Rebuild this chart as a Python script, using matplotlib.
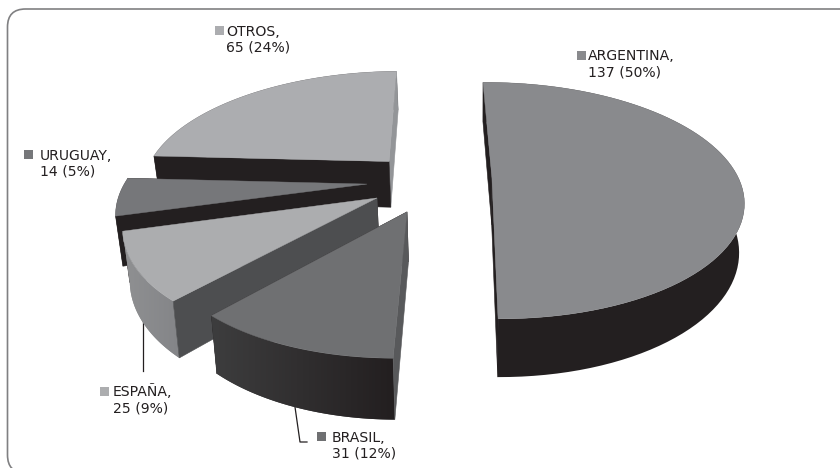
import numpy as np
import matplotlib
matplotlib.use('Agg')
import matplotlib.pyplot as plt
from matplotlib.patches import Polygon, Rectangle, FancyBboxPatch
from matplotlib.colors import LinearSegmentedColormap

names = ['ARGENTINA', 'BRASIL', 'ESPAÑA', 'URUGUAY', 'OTROS']
values = [137, 31, 25, 14, 65]
percents = [50, 12, 9, 5, 24]

# look of every slice, same order as names
tops = ['#898a8d', '#6f7072', '#acadaf', '#76777a', '#acadb0']
arc_left = ['#231f20', '#3d3d3e', '#8f9092', '#231f20', '#231f20']
arc_right = ['#231f20', '#231f20', '#848588', '#231f20', '#231f20']
start_walls = ['#231f20', '#58595b', '#4d4e50', '#231f20', '#231f20']
end_walls = ['#231f20', '#231f20', '#231f20', '#231f20', '#939598']
end_over_arc = [False, False, False, False, True]
# how far each slice is pulled out, in pie radii, and its radius
shift_x = [0.135, -0.2015, -0.325, -0.373, -0.295]
shift_y = [-0.106, 0.18, 0.067, -0.051, -0.255]
radius = [1.01, 0.94, 0.975, 0.985, 1.005]

# perspective of the plane of the pie
VP_X = 459
VP_Y = -412
VP_DIST = 602
SCALE_X = 249
P = 0.195
DEPTH = 48
LEAN = 0.02
START = -1.0


def project(X, Y):
    s = 1 / (1 - P * Y)
    return VP_X + SCALE_X * X * s, VP_Y + VP_DIST * s, s


def lower(x, y, s):
    return x + (480 - x) * LEAN, y + DEPTH * s


def wall(ax, x1, y1, s1, x2, y2, s2, color, z):
    bx1, by1 = lower(x1, y1, s1)
    bx2, by2 = lower(x2, y2, s2)
    ax.add_patch(Polygon([(x1, y1), (x2, y2), (bx2, by2), (bx1, by1)],
                         facecolor=color, edgecolor=color, linewidth=0.4, zorder=z))


fig = plt.figure(figsize=(8.4, 4.68), dpi=100)
ax = fig.add_axes([0, 0, 1, 1])

# the frame runs off the right and bottom of the picture
ax.add_patch(FancyBboxPatch((25.5, 27), 880, 428, boxstyle='round,pad=18,rounding_size=18',
                            facecolor='white', edgecolor='#808082', linewidth=1.2, zorder=1))

angles = 360 * np.cumsum([0] + values) / sum(values) + START
draw_order = [4, 3, 2, 1, 0]
for n, i in enumerate(draw_order):
    t = np.radians(np.linspace(angles[i], angles[i + 1], 80))
    cx, cy, cs = project(shift_x[i], shift_y[i])
    px, py, ps = project(shift_x[i] + radius[i] * np.sin(t), shift_y[i] - radius[i] * np.cos(t))
    z = 5 + n * 5
    bx, by = lower(px, py, ps)
    wall(ax, cx, cy, cs, px[-1], py[-1], ps[-1], end_walls[i], z + (1.5 if end_over_arc[i] else 0))
    arc = Polygon(list(zip(px, py)) + list(zip(bx[::-1], by[::-1])), facecolor=arc_left[i],
                  edgecolor='none', zorder=z + 1)
    ax.add_patch(arc)
    if arc_left[i] != arc_right[i]:
        cmap = LinearSegmentedColormap.from_list('w', [arc_left[i], arc_right[i]])
        im = ax.imshow(np.linspace(0, 1, 64).reshape(1, -1), cmap=cmap, aspect='auto', zorder=z + 1.2,
                       extent=[min(px.min(), bx.min()), max(px.max(), bx.max()), by.max(), py.min()])
        im.set_clip_path(arc)
    wall(ax, cx, cy, cs, px[0], py[0], ps[0], start_walls[i], z + 2)
    pts = [(cx, cy)] + list(zip(px, py))
    ax.add_patch(Polygon(pts, facecolor=tops[i], edgecolor=tops[i], linewidth=0.3, zorder=z + 3))

# leader lines
ax.plot([143, 143], [320, 371], color='#231f20', lw=0.9, zorder=2)
ax.plot([294, 300, 307], [400, 442, 442], color='#231f20', lw=0.9, zorder=2)

# labels: square x, square y, text x
label_pos = {'ARGENTINA': (577, 51, 588), 'BRASIL': (317, 432, 332), 'ESPAÑA': (100, 387, 113),
             'URUGUAY': (24, 150, 40), 'OTROS': (215, 26, 226)}
for i, name in enumerate(names):
    sx, sy, tx = label_pos[name]
    ax.add_patch(Rectangle((sx, sy), 8.5, 8.5, facecolor=tops[i], edgecolor='none', zorder=50))
    ax.text(tx, sy + 9.5, name + ',', fontsize=10.1, family='DejaVu Sans', color='#231f20', va='baseline', ha='left', zorder=50)
    ax.text(tx, sy + 25.5, '%d (%d%%)' % (values[i], percents[i]), fontsize=10.1, family='DejaVu Sans', color='#231f20', va='baseline', ha='left', zorder=50)

ax.set_xlim(0, 840)
ax.set_ylim(468, 0)
ax.axis('off')
fig.savefig('out.png', dpi=100)
